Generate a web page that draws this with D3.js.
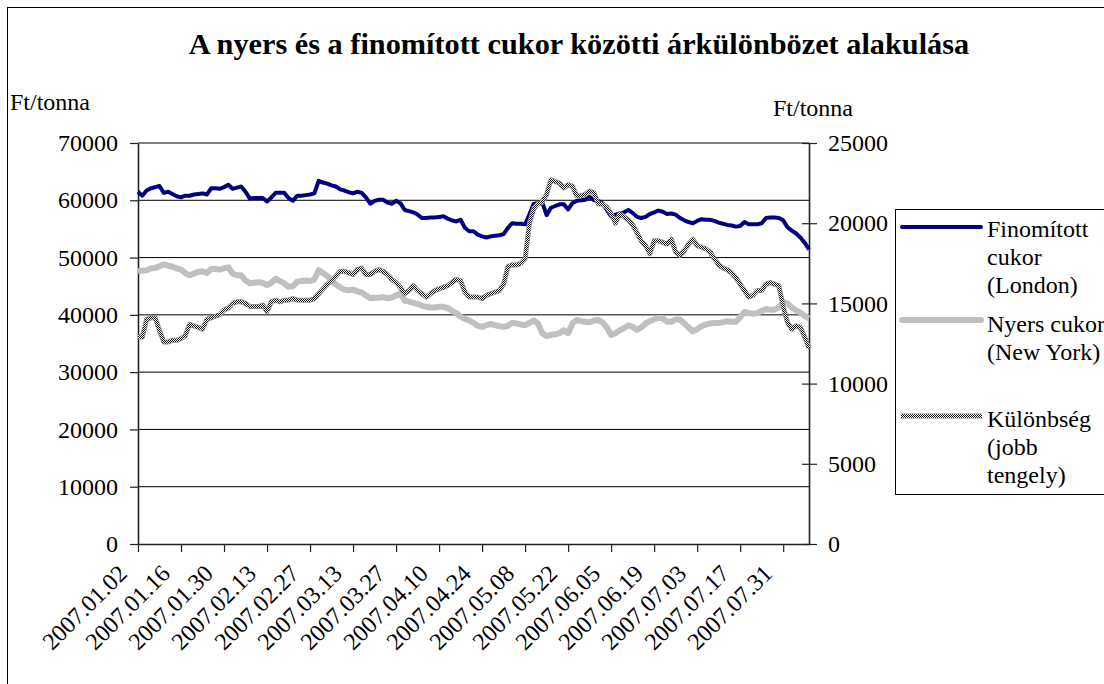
<!DOCTYPE html>
<html>
<head>
<meta charset="utf-8">
<script src="https://cdn.jsdelivr.net/npm/d3@7"></script>
<style>
  body { margin: 0; background: #fff; }
  text { font-family: "Liberation Serif", "Times New Roman", serif; fill: #000; }
</style>
</head>
<body>
<script>
// Data (Ft/tonna), one value per trading day from 2007.01.02

const finomitott = [
  61500,60800,61700,62100,62300,62500,61300,61500,61100,60700,
  60500,60800,60800,61000,61100,61200,61000,62100,62100,62000,
  62300,62700,62000,62200,62400,61500,60300,60400,60400,60400,
  59800,60500,61300,61300,61300,60400,59900,60800,60800,60900,
  61000,61200,63400,63100,62900,62600,62400,61900,61700,61400,
  61200,61500,61300,60500,59400,59900,60100,60100,59600,59400,
  59900,59500,58300,58100,57900,57500,56900,56900,57000,57000,
  57100,57200,56800,56500,56300,56600,55200,54600,54600,54000,
  53700,53500,53700,53800,53900,54100,55200,56000,55900,55900,
  55800,57500,59400,59500,59600,57400,58700,59000,59300,59300,
  58400,59500,59900,60000,60100,60600,60000,59900,59500,58300,
  57200,57500,57700,57900,58300,57800,57100,56900,57100,57600,
  57900,58200,58000,57600,57700,57500,56900,56500,56200,56000,
  56400,56700,56600,56600,56400,56100,55900,55700,55600,55400,
  55500,56200,55800,55800,55800,56000,56900,57000,57000,56900,
  56500,55300,54700,54200,53500,52600,51400
];

const nyers = [
  47600,47700,47800,48100,48200,48500,48800,48600,48400,48100,
  47900,47300,46900,47200,47500,47600,47300,48000,48000,47900,
  48100,48300,47200,46900,46900,46000,45500,45600,45700,45600,
  45200,45600,46300,45900,45500,44900,45000,45800,45900,46000,
  45900,46200,47800,47300,46800,46000,45300,44800,44400,44300,
  44400,44100,43900,43400,42900,43000,43000,43100,42900,43000,
  43400,43700,42500,42300,42100,41900,41600,41400,41300,41300,
  41400,41400,41200,40700,40300,39700,39300,39000,38600,38100,
  37900,38200,38400,38200,38000,37900,38100,38600,38500,38300,
  38200,38600,39000,38500,36800,36300,36500,36600,36800,37300,
  36800,38500,39100,38900,38800,38700,39000,39100,38700,37800,
  36500,36800,37300,37700,38200,37900,37400,37800,38500,38900,
  39200,39500,39400,38800,38800,39200,39200,38500,37800,37100,
  37500,38000,38300,38500,38600,38600,38700,38900,38800,38800,
  39600,40500,40300,40200,40300,40700,41000,40900,40900,41300,
  42200,42000,41300,40800,40400,39800,39400
];

// right axis
const kulonbseg = [
  12900,12900,14000,14100,14100,13300,12600,12600,12700,12700,
  12800,13000,13700,13600,13500,13400,14000,14100,14200,14300,
  14600,14700,15000,15100,15100,15000,14800,14800,14800,14900,
  14500,15100,15200,15100,15200,15200,15300,15200,15200,15200,
  15200,15300,15600,15900,16200,16400,16700,17000,17000,16900,
  16800,17100,17200,16800,16800,17000,17100,17000,16800,16500,
  16300,16000,15600,15800,16100,15800,15600,15400,15600,15800,
  15900,16000,16100,16300,16500,16400,15700,15400,15400,15400,
  15300,15500,15600,15700,15800,16200,17300,17400,17400,17500,
  17800,20000,20900,21200,21300,21800,22700,22600,22500,22200,
  22400,22300,21700,21700,21800,22000,21900,21200,21200,21000,
  20600,20000,20600,20400,20200,19900,19400,18900,18600,18100,
  18900,18900,18800,18700,19000,18200,18000,18300,18700,19000,
  18600,18500,18400,18200,17800,17400,17200,17100,16900,16600,
  16200,15800,15400,15500,15800,15800,16200,16300,16200,16100,
  14800,13800,13400,13600,13500,12900,12200
];

const tickLabels = ["2007.01.02","2007.01.16","2007.01.30","2007.02.13","2007.02.27",
  "2007.03.13","2007.03.27","2007.04.10","2007.04.24","2007.05.08","2007.05.22",
  "2007.06.05","2007.06.19","2007.07.03","2007.07.17","2007.07.31"];

const leftTicks = [0,10000,20000,30000,40000,50000,60000,70000];
const rightTicks = [0,5000,10000,15000,20000,25000];

const seriesNames = [["Finomított","cukor","(London)"],["Nyers cukor","(New York)"],["Különbség","(jobb","tengely)"]];

// categories: weekdays
const fmt = d3.timeFormat("%Y.%m.%d");
const categories = d3.timeDay.range(new Date(2007,0,2), new Date(2007,8,1))
  .filter(d => d.getDay() % 6 !== 0)
  .slice(0, finomitott.length)
  .map(fmt);

const W = 1104, H = 684;
const plotLeft = 138, plotRight = 809, plotTop = 143, plotBottom = 544;

const svg = d3.select("body").append("svg")
  .attr("width", W).attr("height", H);

const defs = svg.append("defs");
const pat = defs.append("pattern").attr("id", "checker")
  .attr("patternUnits", "userSpaceOnUse").attr("width", 2).attr("height", 2);
pat.append("rect").attr("width", 2).attr("height", 2).attr("fill", "#fff");
pat.append("rect").attr("width", 1).attr("height", 1).attr("fill", "#111");
pat.append("rect").attr("x", 1).attr("y", 1).attr("width", 1).attr("height", 1).attr("fill", "#111");

// chart frame
svg.append("rect")
  .attr("x", 7.5).attr("y", 7.5).attr("width", 1300).attr("height", 900)
  .attr("fill", "#fff").attr("stroke", "#000");

// title
svg.append("text")
  .attr("x", 579).attr("y", 54)
  .attr("text-anchor", "middle")
  .style("font-size", "30.3px").style("font-weight", "bold")
  .text("A nyers és a finomított cukor közötti árkülönbözet alakulása");

svg.append("text").attr("x", 10).attr("y", 110).style("font-size", "24px").text("Ft/tonna");
svg.append("text").attr("x", 773).attr("y", 116).style("font-size", "24px").text("Ft/tonna");

// scales
const x = d3.scalePoint().domain(categories).range([plotLeft, plotRight]);
const yL = d3.scaleLinear().domain([0, 70000]).range([plotBottom, plotTop]);
const yR = d3.scaleLinear().domain([0, 25000]).range([plotBottom, plotTop]);

// gridlines
svg.append("g").selectAll("line")
  .data(leftTicks.slice(1))
  .enter().append("line")
  .attr("x1", plotLeft).attr("x2", plotRight)
  .attr("y1", d => yL(d)).attr("y2", d => yL(d))
  .attr("stroke", "#000").attr("stroke-width", 1);

// left axis
const gL = svg.append("g")
  .attr("transform", "translate(" + plotLeft + ",0)")
  .call(d3.axisLeft(yL).tickValues(leftTicks).tickFormat(d3.format("d"))
    .tickSize(8).tickPadding(12).tickSizeOuter(0));
gL.selectAll("text").style("font-size", "24px").style("font-family", "Liberation Serif");

// right axis
const gR = svg.append("g")
  .attr("transform", "translate(" + plotRight + ",0)")
  .call(d3.axisRight(yR).tickValues(rightTicks).tickFormat(d3.format("d"))
    .tickSize(8).tickPadding(11).tickSizeOuter(0));
gR.selectAll(".tick line").attr("x1", -7);
gR.selectAll("text").style("font-size", "24px").style("font-family", "Liberation Serif");

// bottom axis
const gB = svg.append("g")
  .attr("transform", "translate(0," + plotBottom + ")")
  .call(d3.axisBottom(x).tickValues(tickLabels).tickSize(8).tickSizeOuter(0));
gB.selectAll("text")
  .style("font-size", "24px").style("font-family", "Liberation Serif")
  .attr("text-anchor", "end")
  .attr("y", 0).attr("dy", 0)
  .attr("transform", "translate(-10,31) rotate(-45)");

[gL, gR, gB].forEach(g => {
  g.selectAll("path.domain").attr("stroke", "#222").attr("stroke-width", 1.6);
  g.selectAll(".tick line").attr("stroke", "#222").attr("stroke-width", 1.2);
});

// lines
const lineL = d3.line().x((d, i) => x(categories[i])).y(d => yL(d));
const lineR = d3.line().x((d, i) => x(categories[i])).y(d => yR(d));

svg.append("path").datum(finomitott)
  .attr("fill", "none").attr("stroke", "#000080").attr("stroke-width", 4)
  .attr("stroke-linejoin", "round").attr("d", lineL);

svg.append("path").datum(nyers)
  .attr("fill", "none").attr("stroke", "#c0c0c0").attr("stroke-width", 6)
  .attr("stroke-linejoin", "round").attr("d", lineL);

svg.append("path").datum(kulonbseg)
  .attr("fill", "none").attr("stroke", "#8e8e8e").attr("stroke-width", 5)
  .attr("stroke-linejoin", "round").attr("d", lineR);
svg.append("path").datum(kulonbseg)
  .attr("fill", "none").attr("stroke", "url(#checker)").attr("stroke-width", 3.4)
  .attr("stroke-linejoin", "round").attr("d", lineR);

// legend
const lg = svg.append("g");
lg.append("rect").attr("x", 895.5).attr("y", 209.5).attr("width", 300).attr("height", 285)
  .attr("fill", "#fff").attr("stroke", "#000");

const legendY = [227, 320, 416];
const legendBase = [237, 332, 427];

lg.append("line").attr("x1", 902).attr("x2", 981).attr("y1", legendY[0]).attr("y2", legendY[0])
  .attr("stroke", "#000080").attr("stroke-width", 4).attr("stroke-linecap", "round");
lg.append("line").attr("x1", 902).attr("x2", 981).attr("y1", legendY[1]).attr("y2", legendY[1])
  .attr("stroke", "#c0c0c0").attr("stroke-width", 6).attr("stroke-linecap", "round");
lg.append("line").attr("x1", 901).attr("x2", 982).attr("y1", legendY[2]).attr("y2", legendY[2])
  .attr("stroke", "#8e8e8e").attr("stroke-width", 5);
lg.append("line").attr("x1", 901).attr("x2", 982).attr("y1", legendY[2]).attr("y2", legendY[2])
  .attr("stroke", "url(#checker)").attr("stroke-width", 3.4);

seriesNames.forEach((lines, k) => {
  lines.forEach((t, j) => {
    lg.append("text")
      .attr("x", 987).attr("y", legendBase[k] + j * 28)
      .style("font-size", "24px")
      .text(t);
  });
});
</script>
</body>
</html>
